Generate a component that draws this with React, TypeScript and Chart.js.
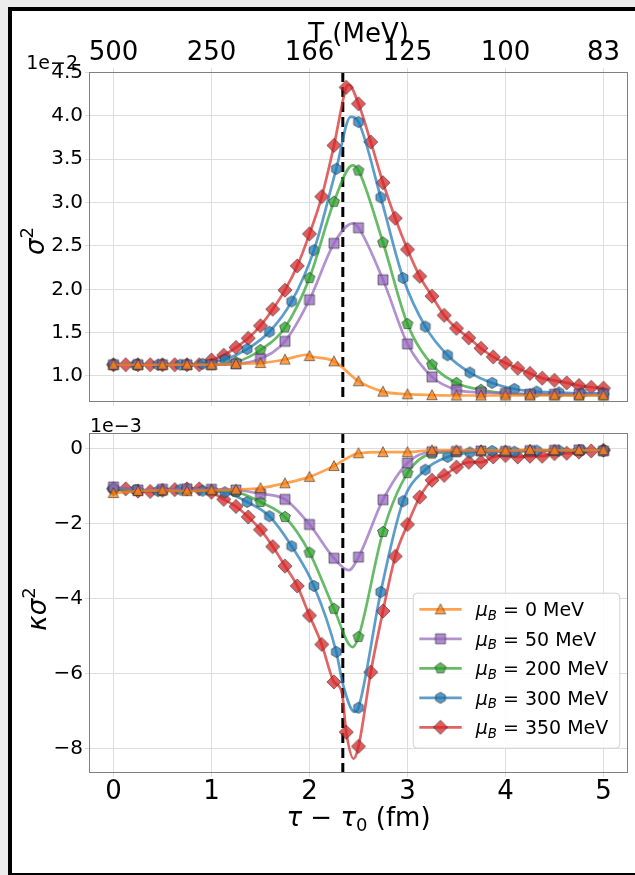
import React, { useEffect, useRef } from 'react';
import { Chart, registerables } from 'chart.js';

Chart.register(...registerables);

const FONT = '"DejaVu Sans", sans-serif';

// ---------- data ----------
const tauStep025 = [0, 0.25, 0.5, 0.75, 1, 1.25, 1.5, 1.75, 2, 2.25, 2.5, 2.75, 3, 3.25, 3.5, 3.75, 4, 4.25, 4.5, 4.75, 5];
const tauHex = [0, 0.227, 0.455, 0.682, 0.909, 1.136, 1.364, 1.591, 1.818, 2.045, 2.273, 2.5, 2.727, 2.955, 3.182, 3.409, 3.636, 3.864, 4.091, 4.318, 4.545, 4.773, 5];
const tauStep0125 = [0, 0.125, 0.25, 0.375, 0.5, 0.625, 0.75, 0.875, 1, 1.125, 1.25, 1.375, 1.5, 1.625, 1.75, 1.875, 2, 2.125, 2.25, 2.375, 2.5, 2.625, 2.75, 2.875, 3, 3.125, 3.25, 3.375, 3.5, 3.625, 3.75, 3.875, 4, 4.125, 4.25, 4.375, 4.5, 4.625, 4.75, 4.875, 5];

const muBLabels = ['0', '50', '200', '300', '350'];
const tTickLabels = ['500', '250', '166', '125', '100', '83'];
const tauCritical = 2.34;

// sigma^2 (x 1e-2)
const sigma2Mu0 = [1.13, 1.13, 1.13, 1.13, 1.13, 1.14, 1.15, 1.19, 1.23, 1.17, 0.94, 0.82, 0.79, 0.78, 0.775, 0.775, 0.775, 0.775, 0.775, 0.775, 0.775];
const sigma2Mu50 = [1.13, 1.13, 1.13, 1.13, 1.13, 1.14, 1.2, 1.4, 1.88, 2.53, 2.71, 2.11, 1.37, 0.99, 0.84, 0.81, 0.8, 0.79, 0.79, 0.79, 0.79];
const sigma2Mu200 = [1.13, 1.13, 1.13, 1.13, 1.13, 1.16, 1.3, 1.56, 2.13, 3.01, 3.37, 2.54, 1.6, 1.13, 0.92, 0.84, 0.8, 0.79, 0.785, 0.78, 0.78];
const sigma2Mu300 = [1.13, 1.13, 1.13, 1.13, 1.14, 1.19, 1.31, 1.51, 1.86, 2.45, 3.39, 3.93, 3.06, 2.13, 1.57, 1.24, 1.04, 0.92, 0.85, 0.82, 0.81, 0.8, 0.8];
const sigma2Mu350 = [1.13, 1.13, 1.13, 1.13, 1.13, 1.13, 1.13, 1.13, 1.185, 1.24, 1.33, 1.435, 1.58, 1.77, 1.99, 2.27, 2.64, 3.07, 3.66, 4.33, 4.14, 3.7, 3.23, 2.82, 2.46, 2.15, 1.92, 1.7, 1.55, 1.44, 1.32, 1.22, 1.15, 1.09, 1.03, 0.975, 0.95, 0.92, 0.89, 0.87, 0.86];
// extra points read on the curves (peaks) [tau, value]
const sigma2CurveMu0 = [[1.97, 1.245]];
const sigma2CurveMu50 = [[2.44, 2.76]];
const sigma2CurveMu200 = [[2.44, 3.43]];
const sigma2CurveMu300 = [[2.42, 3.99]];
const sigma2CurveMu350 = [[2.4, 4.36]];

// kappa sigma^2 (x 1e-3)
const kappaMu0 = [-1.18, -1.13, -1.11, -1.13, -1.11, -1.09, -1.05, -0.92, -0.75, -0.46, -0.12, -0.09, -0.09, -0.04, -0.04, -0.04, -0.05, -0.03, -0.04, -0.04, -0.04];
const kappaMu50 = [-1.02, -1.1, -1.08, -1.07, -1.08, -1.1, -1.2, -1.35, -2.02, -2.92, -2.89, -1.36, -0.38, -0.08, -0.07, -0.06, -0.07, -0.05, -0.04, -0.03, -0.06];
const kappaMu200 = [-1.08, -1.12, -1.12, -1.1, -1.1, -1.15, -1.42, -1.82, -2.77, -4.27, -5.02, -2.22, -0.65, -0.13, -0.09, -0.06, -0.07, -0.05, -0.05, -0.04, -0.05];
const kappaMu300 = [-1.05, -1.1, -1.13, -1.09, -1.12, -1.16, -1.42, -1.8, -2.6, -3.66, -5.42, -6.91, -3.82, -1.4, -0.56, -0.22, -0.1, -0.06, -0.08, -0.05, -0.05, -0.04, -0.05];
const kappaMu350 = [-1.07, -1.07, -1.13, -1.14, -1.11, -1.09, -1.07, -1.07, -1.16, -1.35, -1.54, -1.82, -2.16, -2.61, -3.13, -3.66, -4.45, -5.22, -6.22, -7.56, -7.94, -5.96, -4.33, -2.87, -2.02, -1.29, -0.84, -0.71, -0.49, -0.36, -0.36, -0.22, -0.18, -0.22, -0.2, -0.2, -0.13, -0.12, -0.09, -0.06, -0.04];
const kappaCurveMu0: number[][] = [];
const kappaCurveMu50 = [[2.4, -3.24]];
const kappaCurveMu200 = [[2.44, -5.29]];
const kappaCurveMu300 = [[2.34, -6.27], [2.46, -7.02]];
const kappaCurveMu350 = [[2.33, -6.5], [2.45, -8.27]];

const seriesRGB = ['255,127,14', '148,103,189', '44,160,44', '31,119,180', '214,39,40'];
const seriesShapes = ['triangle', 'square', 'pentagon', 'hexagon', 'diamond'];

const sigma2Series = [
  { x: tauStep025, y: sigma2Mu0, extra: sigma2CurveMu0 },
  { x: tauStep025, y: sigma2Mu50, extra: sigma2CurveMu50 },
  { x: tauStep025, y: sigma2Mu200, extra: sigma2CurveMu200 },
  { x: tauHex, y: sigma2Mu300, extra: sigma2CurveMu300 },
  { x: tauStep0125, y: sigma2Mu350, extra: sigma2CurveMu350 },
];
const kappaSeries = [
  { x: tauStep025, y: kappaMu0, extra: kappaCurveMu0 },
  { x: tauStep025, y: kappaMu50, extra: kappaCurveMu50 },
  { x: tauStep025, y: kappaMu200, extra: kappaCurveMu200 },
  { x: tauHex, y: kappaMu300, extra: kappaCurveMu300 },
  { x: tauStep0125, y: kappaMu350, extra: kappaCurveMu350 },
];

const GRID = '#dddddd';
const SPINE = '#808080';

// ---------- helpers ----------
function makeMarker(shape: string, rgb: string): HTMLCanvasElement {
  const size = 18;
  const c = document.createElement('canvas');
  c.width = size;
  c.height = size;
  const ctx = c.getContext('2d')!;
  const cx = size / 2;
  const cy = size / 2;
  const poly = (n: number, r: number, rot: number) => {
    for (let i = 0; i < n; i++) {
      const a = rot + (i * 2 * Math.PI) / n;
      const px = cx + r * Math.cos(a);
      const py = cy + r * Math.sin(a);
      if (i === 0) ctx.moveTo(px, py);
      else ctx.lineTo(px, py);
    }
    ctx.closePath();
  };
  ctx.beginPath();
  if (shape === 'triangle') {
    ctx.moveTo(cx, cy - 5.4);
    ctx.lineTo(cx + 5.2, cy + 4.6);
    ctx.lineTo(cx - 5.2, cy + 4.6);
    ctx.closePath();
  } else if (shape === 'square') {
    ctx.rect(cx - 5, cy - 5, 10, 10);
  } else if (shape === 'pentagon') {
    poly(5, 5.7, -Math.PI / 2);
  } else if (shape === 'hexagon') {
    poly(6, 5.6, -Math.PI / 2);
  } else {
    poly(4, 7.1, -Math.PI / 2);
  }
  ctx.fillStyle = `rgba(${rgb},0.75)`;
  ctx.fill();
  ctx.lineWidth = 1;
  ctx.strokeStyle = 'rgba(30,30,30,0.55)';
  ctx.stroke();
  return c;
}

type Seg = { t: string; size: number; italic?: boolean; dy?: number };
function fontOf(s: Seg) {
  return `${s.italic ? 'italic ' : ''}${s.size}px ${FONT}`;
}
function drawSegs(ctx: CanvasRenderingContext2D, segs: Seg[], x: number, y: number, align: 'left' | 'center' | 'right') {
  ctx.textBaseline = 'alphabetic';
  ctx.textAlign = 'left';
  const widths = segs.map((s) => {
    ctx.font = fontOf(s);
    return ctx.measureText(s.t).width;
  });
  const total = widths.reduce((a, b) => a + b, 0);
  let cx = align === 'left' ? x : align === 'center' ? x - total / 2 : x - total;
  segs.forEach((s, i) => {
    ctx.font = fontOf(s);
    ctx.fillText(s.t, cx, y + (s.dy || 0));
    cx += widths[i];
  });
}

function buildDatasets(series: { x: number[]; y: number[]; extra: number[][] }[], markers: HTMLCanvasElement[]) {
  const ds: any[] = [];
  series.forEach((s, i) => {
    const pts = s.x.map((x, j) => ({ x, y: s.y[j] }));
    const linePts = [...pts, ...s.extra.map(([x, y]) => ({ x, y }))].sort((a, b) => a.x - b.x);
    ds.push({
      data: pts,
      showLine: false,
      pointStyle: markers[i],
      pointRadius: 5,
      pointHoverRadius: 5,
      xAxisID: 'x',
      yAxisID: 'y',
    });
    ds.push({
      data: linePts,
      showLine: true,
      pointRadius: 0,
      pointHoverRadius: 0,
      borderColor: `rgba(${seriesRGB[i]},0.72)`,
      borderWidth: 2.7,
      cubicInterpolationMode: 'monotone',
      fill: false,
      xAxisID: 'x',
      yAxisID: 'y',
    });
  });
  return ds;
}

function decorPlugin(kind: 'top' | 'bottom', markers: HTMLCanvasElement[]) {
  return {
    id: 'decor-' + kind,
    beforeDatasetsDraw(chart: any) {
      const { ctx, chartArea } = chart;
      const xp = chart.scales.x.getPixelForValue(tauCritical);
      ctx.save();
      ctx.strokeStyle = '#000';
      ctx.lineWidth = 3;
      ctx.setLineDash([10, 5]);
      ctx.beginPath();
      ctx.moveTo(xp, chartArea.top);
      ctx.lineTo(xp, chartArea.bottom);
      ctx.stroke();
      ctx.restore();
    },
    afterDatasetsDraw(chart: any) {
      const { ctx, chartArea } = chart;
      ctx.save();
      ctx.strokeStyle = SPINE;
      ctx.lineWidth = 1;
      ctx.strokeRect(chartArea.left + 0.5, chartArea.top + 0.5, chartArea.right - chartArea.left - 1, chartArea.bottom - chartArea.top - 1);
      ctx.restore();
    },
    afterDraw(chart: any) {
      const { ctx, chartArea } = chart;
      const cxMid = (chartArea.left + chartArea.right) / 2;
      const cyMid = (chartArea.top + chartArea.bottom) / 2;
      ctx.save();
      ctx.fillStyle = '#000';
      if (kind === 'top') {
        drawSegs(ctx, [{ t: 'T (MeV)', size: 26 }], cxMid, 42, 'center');
        drawSegs(ctx, [{ t: '1e\u22122', size: 19 }], chartArea.left - 11, 69, 'right');
        ctx.save();
        ctx.translate(44, cyMid + 4);
        ctx.rotate(-Math.PI / 2);
        drawSegs(ctx, [{ t: 'σ', size: 26, italic: true }, { t: '2', size: 18, dy: -11 }], 0, 0, 'center');
        ctx.restore();
      } else {
        drawSegs(ctx, [{ t: '1e\u22123', size: 19 }], chartArea.left + 1, chartArea.top - 1.5, 'left');
        ctx.save();
        ctx.translate(46, cyMid + 6);
        ctx.rotate(-Math.PI / 2);
        drawSegs(ctx, [{ t: 'κσ', size: 26, italic: true }, { t: '2', size: 18, dy: -11 }], 0, 0, 'center');
        ctx.restore();
        drawSegs(
          ctx,
          [
            { t: 'τ', size: 26, italic: true },
            { t: ' \u2212 ', size: 26 },
            { t: 'τ', size: 26, italic: true },
            { t: '0', size: 18, dy: 5 },
            { t: ' (fm)', size: 26 },
          ],
          cxMid,
          chartArea.bottom + 53,
          'center'
        );
        // legend
        const bw = 206.6;
        const bh = 155;
        const bx = chartArea.right - 215.3;
        const by = chartArea.top + 159.7;
        ctx.save();
        ctx.beginPath();
        (ctx as any).roundRect(bx + 0.5, by + 0.5, bw, bh, 4);
        ctx.fillStyle = 'rgba(255,255,255,0.85)';
        ctx.fill();
        ctx.strokeStyle = '#d0d0d0';
        ctx.lineWidth = 1;
        ctx.stroke();
        ctx.restore();
        muBLabels.forEach((lab, i) => {
          const cy = by + 16.6 + i * 29.5;
          ctx.save();
          ctx.strokeStyle = `rgba(${seriesRGB[i]},0.72)`;
          ctx.lineWidth = 2.7;
          ctx.beginPath();
          ctx.moveTo(bx + 6.6, cy);
          ctx.lineTo(bx + 49, cy);
          ctx.stroke();
          const m = markers[i];
          ctx.drawImage(m, bx + 27.8 - m.width / 2, cy - m.height / 2);
          ctx.restore();
          ctx.fillStyle = '#000';
          drawSegs(
            ctx,
            [
              { t: 'μ', size: 19, italic: true },
              { t: 'B', size: 13.3, italic: true, dy: 3.5 },
              { t: ' = ' + lab + ' MeV', size: 19 },
            ],
            bx + 63,
            cy + 7,
            'left'
          );
        });
      }
      ctx.restore();
    },
  };
}

function xScaleBase() {
  return {
    type: 'linear',
    min: -0.25,
    max: 5.25,
    border: { display: false },
  };
}

function makeTopConfig(markers: HTMLCanvasElement[]): any {
  return {
    type: 'scatter',
    data: { datasets: buildDatasets(sigma2Series, markers) },
    options: {
      responsive: false,
      animation: false,
      events: [],
      layout: { padding: { left: 0, right: 7, top: 0, bottom: 0 } },
      plugins: { legend: { display: false }, tooltip: { enabled: false } },
      scales: {
        x: {
          ...xScaleBase(),
          position: 'bottom',
          ticks: { display: false, stepSize: 1, includeBounds: false },
          grid: { color: GRID, tickLength: 4, tickColor: GRID },
          afterFit: (s: any) => {
            s.height = 18;
          },
        },
        xTop: {
          ...xScaleBase(),
          position: 'top',
          ticks: {
            stepSize: 1,
            includeBounds: false,
            autoSkip: false,
            maxRotation: 0,
            padding: -1,
            color: '#000',
            font: { family: FONT, size: 26 },
            callback: (v: any) => tTickLabels[Math.round(Number(v))] ?? '',
          },
          grid: { drawOnChartArea: false, tickLength: 4, tickColor: GRID },
          afterFit: (s: any) => {
            s.height = 72;
          },
        },
        y: {
          type: 'linear',
          min: 0.7,
          max: 4.507,
          border: { display: false },
          ticks: {
            stepSize: 0.5,
            includeBounds: false,
            padding: 2,
            color: '#000',
            font: { family: FONT, size: 20 },
            callback: (v: any) => Number(v).toFixed(1),
          },
          grid: { color: GRID, tickLength: 4, tickColor: GRID },
          afterFit: (s: any) => {
            s.width = 89;
          },
        },
      },
    },
    plugins: [decorPlugin('top', markers)],
  };
}

function makeBottomConfig(markers: HTMLCanvasElement[]): any {
  return {
    type: 'scatter',
    data: { datasets: buildDatasets(kappaSeries, markers) },
    options: {
      responsive: false,
      animation: false,
      events: [],
      layout: { padding: { left: 0, right: 7, top: 29, bottom: 0 } },
      plugins: { legend: { display: false }, tooltip: { enabled: false } },
      scales: {
        x: {
          ...xScaleBase(),
          position: 'bottom',
          ticks: {
            stepSize: 1,
            includeBounds: false,
            autoSkip: false,
            maxRotation: 0,
            padding: 0,
            color: '#000',
            font: { family: FONT, size: 26 },
            callback: (v: any) => String(Math.round(Number(v))),
          },
          grid: { color: GRID, tickLength: 4, tickColor: GRID },
          afterFit: (s: any) => {
            s.height = 102;
          },
        },
        y: {
          type: 'linear',
          min: -8.65,
          max: 0.42,
          border: { display: false },
          ticks: {
            stepSize: 2,
            includeBounds: false,
            padding: 2,
            color: '#000',
            font: { family: FONT, size: 20 },
            callback: (v: any) => {
              const n = Math.round(Number(v));
              return n < 0 ? '\u2212' + Math.abs(n) : String(n);
            },
          },
          grid: { color: GRID, tickLength: 4, tickColor: GRID },
          afterFit: (s: any) => {
            s.width = 89;
          },
        },
      },
    },
    plugins: [decorPlugin('bottom', markers)],
  };
}

export default function App() {
  const topRef = useRef<HTMLCanvasElement>(null);
  const botRef = useRef<HTMLCanvasElement>(null);

  useEffect(() => {
    const markers = seriesShapes.map((sh, i) => makeMarker(sh, seriesRGB[i]));
    const c1 = new Chart(topRef.current!, makeTopConfig(markers));
    const c2 = new Chart(botRef.current!, makeBottomConfig(markers));
    return () => {
      c1.destroy();
      c2.destroy();
    };
  }, []);

  return (
    <div style={{ position: 'fixed', left: 0, top: 0, width: 635, height: 875, background: '#ececec', overflow: 'hidden' }}>
      <div
        style={{
          position: 'absolute',
          left: 8,
          top: 7,
          width: 640,
          height: 868,
          boxSizing: 'border-box',
          background: '#fff',
          borderLeft: '4px solid #000',
          borderTop: '4px solid #000',
          borderBottom: '2px solid #000',
        }}
      />
      <canvas ref={topRef} width={635} height={420} style={{ position: 'absolute', left: 0, top: 0, width: 635, height: 420 }} />
      <canvas ref={botRef} width={635} height={471} style={{ position: 'absolute', left: 0, top: 404, width: 635, height: 471 }} />
    </div>
  );
}
